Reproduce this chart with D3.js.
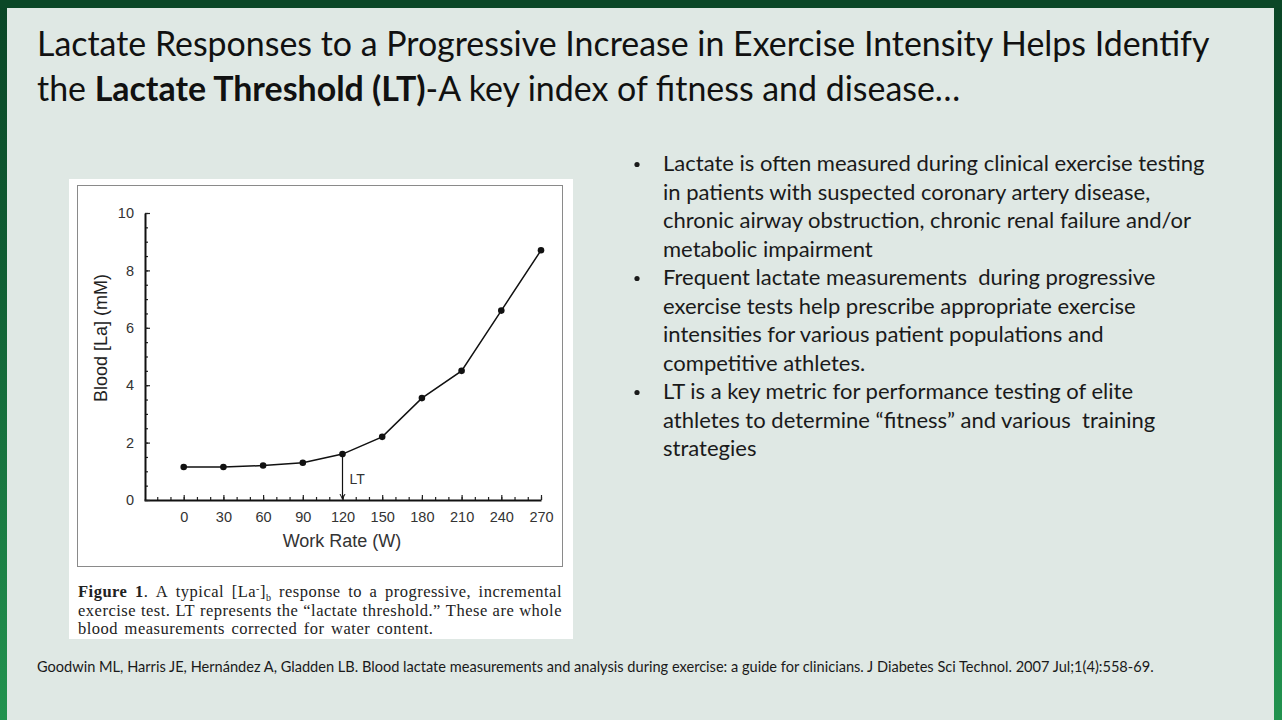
<!DOCTYPE html>
<html>
<head>
<meta charset="utf-8">
<script src="https://cdn.jsdelivr.net/npm/d3@7"></script>
<style>
  body { margin: 0; background: #dfe8e4; }
  svg { display: block; }
</style>
</head>
<body>
<svg id="slide"></svg>
<script>
// chart data
var workRate = [0, 30, 60, 90, 120, 150, 180, 210, 240, 270];
var lactate = [1.15, 1.15, 1.2, 1.3, 1.6, 2.2, 3.55, 4.5, 6.6, 8.7];
var xTicks = [0, 30, 60, 90, 120, 150, 180, 210, 240, 270];
var xMinorTicks = d3.range(-20, 271, 10);
var yTicks = [0, 2, 4, 6, 8, 10];
var yMinorTicks = d3.range(0, 10.01, 0.5);
var thresholdRate = 120;
var thresholdLactate = 1.6;

// slide texts
var titleLine1 = "Lactate Responses to a Progressive Increase in Exercise Intensity Helps Identify";
var titleLine2 = ["the ", "Lactate Threshold (LT)", "-A key index of fitness and disease\u2026"];
var bullets = [
  ["Lactate is often measured during clinical exercise testing",
   "in patients with suspected coronary artery disease,",
   "chronic airway obstruction, chronic renal failure and/or",
   "metabolic impairment"],
  ["Frequent lactate measurements  during progressive",
   "exercise tests help prescribe appropriate exercise",
   "intensities for various patient populations and",
   "competitive athletes."],
  ["LT is a key metric for performance testing of elite",
   "athletes to determine \u201cfitness\u201d and various  training",
   "strategies"]
];
var captionLines = [
  "Figure 1. A typical [La-]b response to a progressive, incremental",
  "exercise test. LT represents the \u201clactate threshold.\u201d These are whole",
  "blood measurements corrected for water content."
];
var reference = "Goodwin ML, Harris JE, Hern\u00e1ndez A, Gladden LB. Blood lactate measurements and analysis during exercise: a guide for clinicians. J Diabetes Sci Technol. 2007 Jul;1(4):558-69.";

var W = 1282, H = 720;
var slideFont = "Lato, 'Open Sans', sans-serif";

var svg = d3.select("#slide").attr("width", W).attr("height", H);

// frame with green gradient
var grad = svg.append("defs").append("linearGradient")
  .attr("id", "frame").attr("x1", 0).attr("y1", 0).attr("x2", 0).attr("y2", 1);
grad.append("stop").attr("offset", "0%").attr("stop-color", "#0a4526");
grad.append("stop").attr("offset", "35%").attr("stop-color", "#0f5c32");
grad.append("stop").attr("offset", "100%").attr("stop-color", "#22934f");

svg.append("rect").attr("width", W).attr("height", H).attr("fill", "url(#frame)");
svg.append("rect").attr("x", 0).attr("y", 0).attr("width", W).attr("height", 8).attr("fill", "#0b4727");
svg.append("rect").attr("x", 7).attr("y", 8).attr("width", 1267).attr("height", H - 8).attr("fill", "#dfe8e4");

// scale the font so a text runs exactly the given width
function fitWidth(sel, target) {
  var w = sel.node().getComputedTextLength();
  var fs = parseFloat(sel.attr("font-size"));
  sel.attr("font-size", fs * target / w);
  return fs * target / w;
}

// title
var t1 = svg.append("text")
  .attr("x", 37).attr("y", 56)
  .attr("font-family", slideFont).attr("font-size", 34)
  .attr("fill", "#111")
  .text(titleLine1);
var titleSize = fitWidth(t1, 1173);

var t2 = svg.append("text")
  .attr("x", 37).attr("y", 101)
  .attr("font-family", slideFont).attr("font-size", titleSize)
  .attr("fill", "#111");
t2.selectAll("tspan").data(titleLine2).enter().append("tspan")
  .attr("font-weight", function(d, i) { return i === 1 ? "bold" : "normal"; })
  .text(function(d) { return d; });

// bullets
var bulletSize = null;
var lineY = 171;
bullets.forEach(function(lines) {
  svg.append("circle")
    .attr("cx", 637).attr("cy", lineY - 6.5).attr("r", 2.6)
    .attr("fill", "#1a1a1a");
  lines.forEach(function(line) {
    var t = svg.append("text")
      .attr("x", 663).attr("y", lineY)
      .attr("font-family", slideFont).attr("font-size", bulletSize || 21)
      .attr("fill", "#1a1a1a")
      .style("white-space", "pre")
      .text(line);
    if (!bulletSize) bulletSize = fitWidth(t, 542);
    lineY += 28.5;
  });
});

// reference
var ref = svg.append("text")
  .attr("x", 37).attr("y", 672)
  .attr("font-family", slideFont).attr("font-size", 13)
  .attr("fill", "#1a1a1a")
  .text(reference);
fitWidth(ref, 1118);

// figure panel
svg.append("rect")
  .attr("x", 69).attr("y", 179).attr("width", 504).attr("height", 460)
  .attr("fill", "#ffffff");
svg.append("rect")
  .attr("x", 77.5).attr("y", 185.5).attr("width", 485).attr("height", 381)
  .attr("fill", "none").attr("stroke", "#8a8a8a").attr("stroke-width", 1);

var x = d3.scaleLinear().domain([-30, 270]).range([144, 541]);
var y = d3.scaleLinear().domain([0, 10]).range([500, 213]);

var chart = svg.append("g")
  .attr("font-family", "'Liberation Sans', Arial, sans-serif");

// minor ticks
chart.append("g")
  .attr("transform", "translate(0,500)")
  .call(d3.axisBottom(x).tickValues(xMinorTicks).tickSize(-3).tickFormat(""))
  .call(function(g) { g.select(".domain").remove(); });
chart.append("g")
  .attr("transform", "translate(145,0)")
  .call(d3.axisLeft(y).tickValues(yMinorTicks).tickSize(-3).tickFormat(""))
  .call(function(g) { g.select(".domain").remove(); });

// major axes
var xAxis = chart.append("g")
  .attr("transform", "translate(0,500)")
  .call(d3.axisBottom(x).tickValues(xTicks).tickSizeInner(-5).tickSizeOuter(0).tickPadding(12));
var yAxis = chart.append("g")
  .attr("transform", "translate(145,0)")
  .call(d3.axisLeft(y).tickValues(yTicks).tickSizeInner(-5).tickSizeOuter(0).tickPadding(11));

[xAxis, yAxis].forEach(function(g) {
  g.select(".domain").attr("stroke", "#111").attr("stroke-width", 2);
  g.selectAll(".tick text").attr("font-size", 14.5).attr("fill", "#333")
    .attr("font-family", "'Liberation Sans', Arial, sans-serif");
});
chart.selectAll(".tick line").attr("stroke", "#222").attr("stroke-width", 1.2);

// axis titles
chart.append("text")
  .attr("x", 342).attr("y", 547)
  .attr("text-anchor", "middle")
  .attr("font-size", 18).attr("fill", "#333")
  .text("Work Rate (W)");
chart.append("text")
  .attr("transform", "translate(107,338) rotate(-90)")
  .attr("text-anchor", "middle")
  .attr("font-size", 18).attr("fill", "#222")
  .text("Blood [La] (mM)");

// series line and points
var points = workRate.map(function(w, i) { return [w, lactate[i]]; });
var line = d3.line()
  .x(function(d) { return x(d[0]); })
  .y(function(d) { return y(d[1]); });

chart.append("path")
  .datum(points)
  .attr("d", line)
  .attr("fill", "none").attr("stroke", "#111").attr("stroke-width", 1.5);

chart.selectAll(".pt")
  .data(points)
  .enter().append("circle")
  .attr("class", "pt")
  .attr("cx", function(d) { return x(d[0]); })
  .attr("cy", function(d) { return y(d[1]); })
  .attr("r", 3.3)
  .attr("fill", "#111");

// LT arrow
var ax = x(thresholdRate);
chart.append("line")
  .attr("x1", ax).attr("x2", ax)
  .attr("y1", y(thresholdLactate)).attr("y2", y(0) - 1)
  .attr("stroke", "#111").attr("stroke-width", 1.2);
chart.append("path")
  .attr("d", "M" + (ax - 2.5) + "," + (y(0) - 6) + "L" + ax + "," + (y(0) - 1) + "L" + (ax + 2.5) + "," + (y(0) - 6))
  .attr("fill", "none").attr("stroke", "#111").attr("stroke-width", 1);
chart.append("text")
  .attr("x", ax + 7).attr("y", y(0.55))
  .attr("font-size", 14).attr("fill", "#333")
  .text("LT");

// caption, justified word by word
var capFont = "'Liberation Serif', 'DejaVu Serif', serif";
function drawWord(g, word) {
  var t = g.append("text")
    .attr("font-family", capFont).attr("font-size", 16.5)
    .attr("letter-spacing", 0.5).attr("fill", "#222");
  if (word === "Figure" || word === "1.") {
    t.append("tspan").attr("font-weight", "bold").text(word.replace(".", ""));
    if (word === "1.") t.append("tspan").text(".");
  } else if (word === "[La-]b") {
    t.append("tspan").text("[La");
    t.append("tspan").attr("font-size", 10).attr("dy", -5).text("-");
    t.append("tspan").attr("dy", 5).text("]");
    t.append("tspan").attr("font-size", 10).attr("dy", 4).text("b");
  } else {
    t.text(word);
  }
  return t;
}

var capG = svg.append("g");
captionLines.forEach(function(line, li) {
  var words = line.split(" ");
  var baseY = 597 + li * 18.5;
  var nodes = words.map(function(w) { return drawWord(capG, w).attr("y", baseY); });
  var widths = nodes.map(function(n) { return n.node().getComputedTextLength(); });
  var total = d3.sum(widths);
  var gap = li < captionLines.length - 1 ? (484 - total) / (words.length - 1) : 6.5;
  var cx = 78;
  nodes.forEach(function(n, i) {
    n.attr("x", cx);
    cx += widths[i] + gap;
  });
});
</script>
</body>
</html>
